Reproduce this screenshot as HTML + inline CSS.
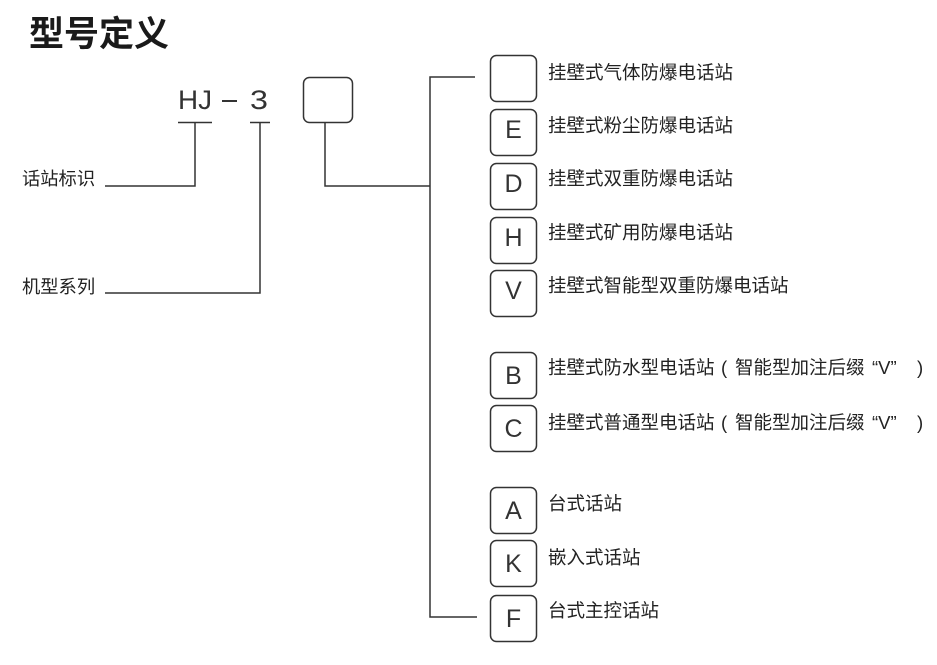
<!DOCTYPE html>
<html><head><meta charset="utf-8">
<style>
html,body{margin:0;padding:0;background:#fff;}
svg{display:block;}
text{font-family:"Liberation Sans","Noto Sans CJK SC",sans-serif;fill:#222;}
.cjk{font-family:"Noto Sans CJK SC","WenQuanYi Zen Hei",sans-serif;}
.lbl{font-size:18.5px;}
.ltr{font-size:25px;text-anchor:middle;fill:#333;}
</style></head>
<body>
<svg width="937" height="665" viewBox="0 0 937 665" xmlns="http://www.w3.org/2000/svg">
<rect width="937" height="665" fill="#fff"/>
<!-- title -->
<text x="29" y="46" class="cjk" style="font-size:35px;font-weight:bold;fill:#1a1a1a">型号定义</text>

<!-- HJ-3 -->
<text x="178" y="109" style="font-size:27px;fill:#333" textLength="34" lengthAdjust="spacingAndGlyphs">HJ</text>
<line x1="222" y1="101" x2="237" y2="101" stroke="#333" stroke-width="2"/>
<text x="250" y="109" style="font-size:27px;fill:#333" textLength="18" lengthAdjust="spacingAndGlyphs">3</text>

<g stroke="#333" stroke-width="1.5" fill="none">
  <line x1="178" y1="122.5" x2="212" y2="122.5"/>
  <line x1="250" y1="122.5" x2="270" y2="122.5"/>
  <polyline points="195,122.5 195,186 105,186"/>
  <polyline points="260,122.5 260,293 105,293"/>
  <rect x="303.5" y="77.5" width="49" height="45" rx="6"/>
  <polyline points="325,122.5 325,186 430,186"/>
  <polyline points="475,77 430,77 430,617 477,617"/>
  <!-- option boxes -->
  <rect x="490.5" y="55.5" width="46" height="46" rx="6"/>
  <rect x="490.5" y="109.5" width="46" height="46" rx="6"/>
  <rect x="490.5" y="163.5" width="46" height="46" rx="6"/>
  <rect x="490.5" y="217.5" width="46" height="46" rx="6"/>
  <rect x="490.5" y="270.5" width="46" height="46" rx="6"/>
  <rect x="490.5" y="352.5" width="46" height="46" rx="6"/>
  <rect x="490.5" y="405.5" width="46" height="46" rx="6"/>
  <rect x="490.5" y="487.5" width="46" height="46" rx="6"/>
  <rect x="490.5" y="540.5" width="46" height="46" rx="6"/>
  <rect x="490.5" y="595.5" width="46" height="46" rx="6"/>
</g>

<!-- left labels -->
<text x="22" y="185" class="cjk" style="font-size:18.3px">话站标识</text>
<text x="22" y="293" class="cjk" style="font-size:18.3px">机型系列</text>

<!-- box letters -->
<text x="513.5" y="138" class="ltr">E</text>
<text x="513.5" y="192" class="ltr">D</text>
<text x="513.5" y="246" class="ltr">H</text>
<text x="513.5" y="299" class="ltr">V</text>
<text x="513.5" y="384" class="ltr">B</text>
<text x="513.5" y="437" class="ltr">C</text>
<text x="513.5" y="519" class="ltr">A</text>
<text x="513.5" y="572" class="ltr">K</text>
<text x="513.5" y="627" class="ltr">F</text>

<!-- descriptions -->
<text x="548" y="79" class="cjk lbl">挂壁式气体防爆电话站</text>
<text x="548" y="132" class="cjk lbl">挂壁式粉尘防爆电话站</text>
<text x="548" y="185" class="cjk lbl">挂壁式双重防爆电话站</text>
<text x="548" y="239" class="cjk lbl">挂壁式矿用防爆电话站</text>
<text x="548" y="292" class="cjk lbl">挂壁式智能型双重防爆电话站</text>

<text x="548" y="374" class="cjk lbl">挂壁式防水型电话站</text>
<text x="721" y="374" class="lbl">(</text>
<text x="735" y="374" class="cjk lbl">智能型加注后缀</text>
<text x="872" y="374" class="lbl">“V”</text>
<text x="917" y="374" class="lbl">)</text>

<text x="548" y="429" class="cjk lbl">挂壁式普通型电话站</text>
<text x="721" y="429" class="lbl">(</text>
<text x="735" y="429" class="cjk lbl">智能型加注后缀</text>
<text x="872" y="429" class="lbl">“V”</text>
<text x="917" y="429" class="lbl">)</text>

<text x="548" y="510" class="cjk lbl">台式话站</text>
<text x="548" y="564" class="cjk lbl">嵌入式话站</text>
<text x="548" y="617" class="cjk lbl">台式主控话站</text>
</svg>
</body></html>
